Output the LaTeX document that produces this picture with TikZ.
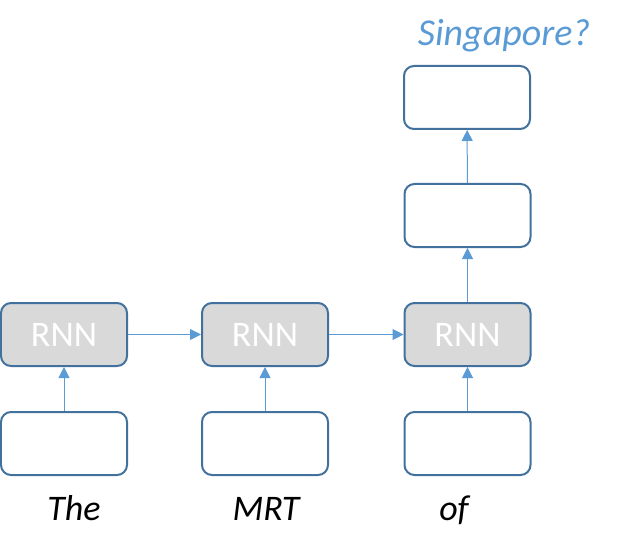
\documentclass[tikz,border=0pt]{standalone}
\usepackage{fontspec}
\setmainfont{Carlito}
\usepackage{tikz}
\usetikzlibrary{arrows.meta,positioning}
\definecolor{boxline}{HTML}{41719C}
\definecolor{arrowblue}{HTML}{5B9BD5}
\definecolor{rnngray}{HTML}{D9D9D9}

\begin{document}
\begin{tikzpicture}[x=1bp, y=-1bp,
    cell/.style={draw=boxline, line width=2bp, rounded corners=10bp, fill=white, minimum width=126bp, minimum height=63bp, inner sep=0pt},
    rnn/.style={cell, fill=rnngray, text=white, font=\fontsize{36bp}{40bp}\selectfont},
    word/.style={anchor=base, font=\fontsize{36bp}{40bp}\selectfont\itshape},
    flow/.style={draw=arrowblue, line width=1bp, -{Triangle[width=11bp,length=11bp]}}]
    \useasboundingbox (0,0) rectangle (638,554);

    \node[rnn] (rnnA) at (64,334.5) {RNN};
    \node[rnn] (rnnB) at (265,334.5) {RNN};
    \node[rnn] (rnnC) at (467.5,334.5) {RNN};

    \node[cell] (inA) at (64,443.5) {};
    \node[cell] (inB) at (265,443.5) {};
    \node[cell] (inC) at (467.5,443.5) {};

    \node[cell] (hidden) at (467.5,215.5) {};
    \node[cell] (output) at (467,97.5) {};

    \node[word] (wThe) at (74,520) {The};
    \node[word] (wMRT) at (266,520) {MRT};
    \node[word] (wOf) at (454,520) {of};
    \node[word, text=arrowblue, font=\fontsize{38bp}{40bp}\selectfont\itshape] (guess) at (504,46) {Singapore?};

    \draw[flow] (inA) -- (rnnA);
    \draw[flow] (inB) -- (rnnB);
    \draw[flow] (inC) -- (rnnC);
    \draw[flow] (rnnA) -- (rnnB);
    \draw[flow] (rnnB) -- (rnnC);
    \draw[flow] (rnnC) -- (hidden);
    \draw[flow] (hidden) -- (output);
\end{tikzpicture}
\end{document}
